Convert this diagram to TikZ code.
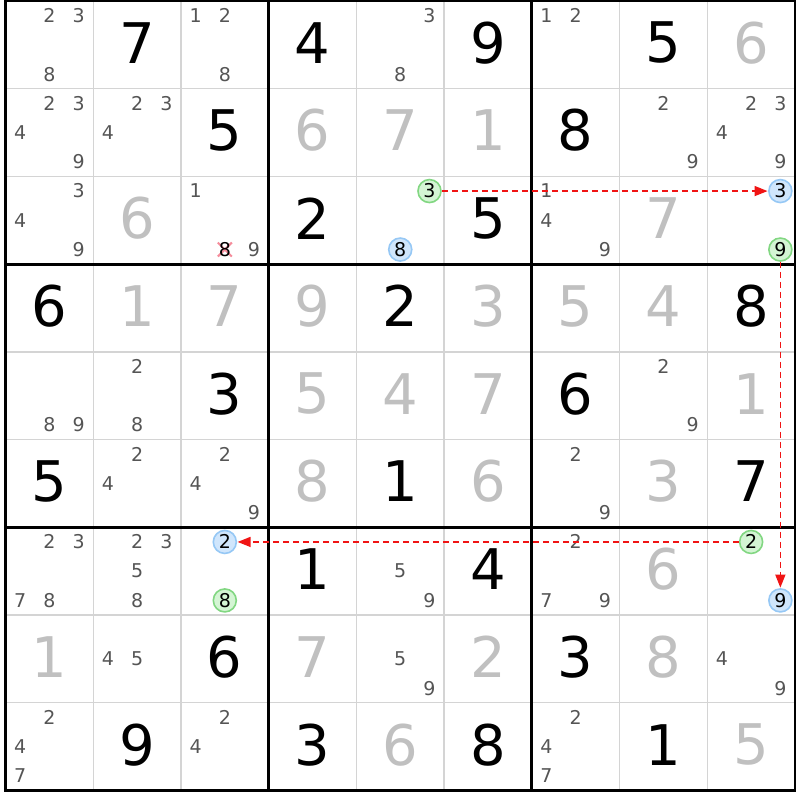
\documentclass[tikz,border=0pt]{standalone}
\usepackage{fontspec}
\setmainfont{DejaVu Sans}
\usetikzlibrary{arrows.meta}
\definecolor{candgray}{RGB}{85,85,85}
\definecolor{solvedgray}{RGB}{192,192,192}
\definecolor{thingrid}{RGB}{212,212,212}
\definecolor{gfill}{RGB}{212,245,212}
\definecolor{gline}{RGB}{130,215,130}
\definecolor{bfill}{RGB}{208,230,252}
\definecolor{bline}{RGB}{150,200,245}
\definecolor{xpink}{RGB}{245,140,155}
\definecolor{linkred}{RGB}{240,20,20}
\tikzset{
  candstyle/.style={inner sep=0pt, text=candgray, font=\fontsize{19}{19}\selectfont},
  givenstyle/.style={inner sep=0pt, text=black, font=\fontsize{56}{56}\selectfont},
  solvedstyle/.style={inner sep=0pt, text=solvedgray, font=\fontsize{56}{56}\selectfont},
  greencirc/.style={circle, inner sep=0pt, minimum size=23pt, draw=gline, line width=1.6pt, fill=gfill, text=black, font=\fontsize{19}{19}\selectfont},
  bluecirc/.style={circle, inner sep=0pt, minimum size=23pt, draw=bline, line width=1.6pt, fill=bfill, text=black, font=\fontsize{19}{19}\selectfont},
  linkarrow/.style={draw=linkred, color=linkred, dash pattern=on 6pt off 4pt, line width=1.4pt, -{Triangle[length=13pt,width=10pt,fill=linkred]}, shorten >=0.5pt},
  thinline/.style={thingrid, line width=1.4pt},
  thickline/.style={black, line width=2.8pt},
}
\newcommand\setcandpos[3]{%
  \pgfmathsetmacro\cx{5.5+(#2-1)*87.72+87.72/6*(2*mod(#3-1,3)+1)}%
  \pgfmathsetmacro\cy{1+(#1-1)*87.72+87.72/6*(2*floor((#3-1)/3)+1)}%
}
\newcommand\candd[3]{\setcandpos{#1}{#2}{#3}\node[candstyle] (k#1#2#3) at (\cx,\cy) {#3};}
\newcommand\candlist[3]{\foreach \dd in {#3} {\candd{#1}{#2}{\dd}}}
\newcommand\candcirc[4]{\setcandpos{#1}{#2}{#3}\node[#4] (k#1#2#3) at (\cx,\cy) {#3};}
\newcommand\bigdig[4]{%
  \pgfmathsetmacro\cx{5.5+(#2-0.5)*87.72}%
  \pgfmathsetmacro\cy{1+(#1-0.5)*87.72-2}%
  \node[#4] (b#1#2) at (\cx,\cy) {#3};}
\begin{document}
\begin{tikzpicture}[x=1pt,y=-1pt]
\useasboundingbox (0,0) rectangle (800,800);
\fill[white] (0,0) rectangle (800,800);
% thin grid lines
\foreach \i in {1,2,4,5,7,8} {
  \draw[thinline] ({5.5+\i*87.72},1) -- ({5.5+\i*87.72},790.5);
  \draw[thinline] (5.5,{1+\i*87.72}) -- (795,{1+\i*87.72});
}
% row 1
\candlist{1}{1}{2,3,8}
\bigdig{1}{2}{7}{givenstyle}
\candlist{1}{3}{1,2,8}
\bigdig{1}{4}{4}{givenstyle}
\candlist{1}{5}{3,8}
\bigdig{1}{6}{9}{givenstyle}
\candlist{1}{7}{1,2}
\bigdig{1}{8}{5}{givenstyle}
\bigdig{1}{9}{6}{solvedstyle}
% row 2
\candlist{2}{1}{2,3,4,9}
\candlist{2}{2}{2,3,4}
\bigdig{2}{3}{5}{givenstyle}
\bigdig{2}{4}{6}{solvedstyle}
\bigdig{2}{5}{7}{solvedstyle}
\bigdig{2}{6}{1}{solvedstyle}
\bigdig{2}{7}{8}{givenstyle}
\candlist{2}{8}{2,9}
\candlist{2}{9}{2,3,4,9}
% row 3
\candlist{3}{1}{3,4,9}
\bigdig{3}{2}{6}{solvedstyle}
\candlist{3}{3}{1,9}
\setcandpos{3}{3}{8}
\draw[xpink, line width=2pt] (\cx-7,\cy-7) -- (\cx+7,\cy+7) (\cx-7,\cy+7) -- (\cx+7,\cy-7);
\node[candstyle, text=black] (k338) at (\cx,\cy) {8};
\bigdig{3}{4}{2}{givenstyle}
\candcirc{3}{5}{3}{greencirc}
\candcirc{3}{5}{8}{bluecirc}
\bigdig{3}{6}{5}{givenstyle}
\candlist{3}{7}{1,4,9}
\bigdig{3}{8}{7}{solvedstyle}
\candcirc{3}{9}{3}{bluecirc}
\candcirc{3}{9}{9}{greencirc}
% row 4
\bigdig{4}{1}{6}{givenstyle}
\bigdig{4}{2}{1}{solvedstyle}
\bigdig{4}{3}{7}{solvedstyle}
\bigdig{4}{4}{9}{solvedstyle}
\bigdig{4}{5}{2}{givenstyle}
\bigdig{4}{6}{3}{solvedstyle}
\bigdig{4}{7}{5}{solvedstyle}
\bigdig{4}{8}{4}{solvedstyle}
\bigdig{4}{9}{8}{givenstyle}
% row 5
\candlist{5}{1}{8,9}
\candlist{5}{2}{2,8}
\bigdig{5}{3}{3}{givenstyle}
\bigdig{5}{4}{5}{solvedstyle}
\bigdig{5}{5}{4}{solvedstyle}
\bigdig{5}{6}{7}{solvedstyle}
\bigdig{5}{7}{6}{givenstyle}
\candlist{5}{8}{2,9}
\bigdig{5}{9}{1}{solvedstyle}
% row 6
\bigdig{6}{1}{5}{givenstyle}
\candlist{6}{2}{2,4}
\candlist{6}{3}{2,4,9}
\bigdig{6}{4}{8}{solvedstyle}
\bigdig{6}{5}{1}{givenstyle}
\bigdig{6}{6}{6}{solvedstyle}
\candlist{6}{7}{2,9}
\bigdig{6}{8}{3}{solvedstyle}
\bigdig{6}{9}{7}{givenstyle}
% row 7
\candlist{7}{1}{2,3,7,8}
\candlist{7}{2}{2,3,5,8}
\candcirc{7}{3}{2}{bluecirc}
\candcirc{7}{3}{8}{greencirc}
\bigdig{7}{4}{1}{givenstyle}
\candlist{7}{5}{5,9}
\bigdig{7}{6}{4}{givenstyle}
\candlist{7}{7}{2,7,9}
\bigdig{7}{8}{6}{solvedstyle}
\candcirc{7}{9}{2}{greencirc}
\candcirc{7}{9}{9}{bluecirc}
% row 8
\bigdig{8}{1}{1}{solvedstyle}
\candlist{8}{2}{4,5}
\bigdig{8}{3}{6}{givenstyle}
\bigdig{8}{4}{7}{solvedstyle}
\candlist{8}{5}{5,9}
\bigdig{8}{6}{2}{solvedstyle}
\bigdig{8}{7}{3}{givenstyle}
\bigdig{8}{8}{8}{solvedstyle}
\candlist{8}{9}{4,9}
% row 9
\candlist{9}{1}{2,4,7}
\bigdig{9}{2}{9}{givenstyle}
\candlist{9}{3}{2,4}
\bigdig{9}{4}{3}{givenstyle}
\bigdig{9}{5}{6}{solvedstyle}
\bigdig{9}{6}{8}{givenstyle}
\candlist{9}{7}{2,4,7}
\bigdig{9}{8}{1}{givenstyle}
\bigdig{9}{9}{5}{solvedstyle}
% thick grid lines
\foreach \i in {0,3,6,9} {
  \draw[thickline] ({5.5+\i*87.72},-0.4) -- ({5.5+\i*87.72},791.9);
  \draw[thickline] (4.1,{1+\i*87.72}) -- (796.4,{1+\i*87.72});
}
% links
\draw[linkarrow] (k353) -- (k393);
\draw[linkarrow] (k399) -- (k799);
\draw[linkarrow] (k792) -- (k732);
\end{tikzpicture}
\end{document}
